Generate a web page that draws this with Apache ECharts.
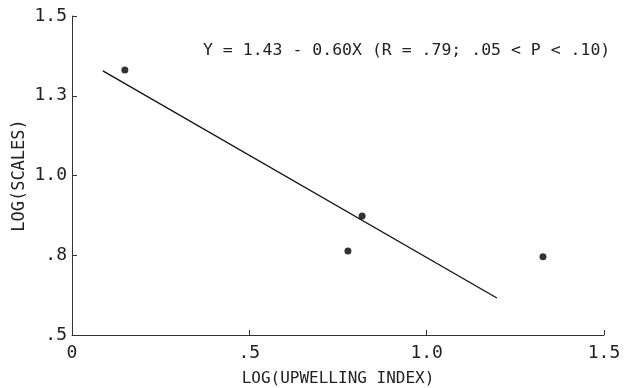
<!DOCTYPE html>
<html>
<head>
<meta charset="utf-8">
<script src="https://cdn.jsdelivr.net/npm/echarts@6/dist/echarts.min.js"></script>
<style>
  html, body { margin: 0; padding: 0; background: #fff; }
  #chart { width: 624px; height: 388px; }
</style>
</head>
<body>
<div id="chart"></div>
<script>
// Observed stations: log upwelling index vs log scale counts
const logUpwelling = [0.149, 0.818, 0.778, 1.328];
const logScales    = [1.331, 0.873, 0.763, 0.745];

// Fitted regression line, drawn between its two end points
const fitX = [0.087, 1.198];
const fitY = [1.328, 0.616];

// Axis tick values and their printed labels
const xTicks = [0, 0.5, 1.0, 1.5];
const xTickLabels = ['0', '.5', '1.0', '1.5'];
const yTicks = [0.5, 0.75, 1.0, 1.25, 1.5];
const yTickLabels = ['.5', '.8', '1.0', '1.3', '1.5'];

const equationText = 'Y = 1.43 - 0.60X (R = .79; .05 < P < .10)';

const FONT = '"DejaVu Sans Mono", "Liberation Mono", monospace';
const INK = '#222';

function labelFor(ticks, labels) {
  return function (v) {
    for (let i = 0; i < ticks.length; i++) {
      if (Math.abs(ticks[i] - v) < 1e-6) return labels[i];
    }
    return '';
  };
}

const chart = echarts.init(document.getElementById('chart'), null, { renderer: 'canvas' });

chart.setOption({
  animation: false,
  backgroundColor: '#fff',
  grid: {
    left: 72, right: 20, top: 16, bottom: 53,
    containLabel: false,
    outerBoundsMode: 'none'
  },
  xAxis: {
    type: 'value',
    min: 0, max: 1.5, interval: 0.5,
    name: 'LOG(UPWELLING INDEX)',
    nameLocation: 'middle',
    nameGap: 36,
    nameMoveOverlap: false,
    nameTextStyle: { fontFamily: FONT, fontSize: 16, color: INK },
    axisLine: { show: true, lineStyle: { color: '#333', width: 1 } },
    axisTick: { show: true, inside: true, length: 5, lineStyle: { color: '#333' } },
    axisLabel: {
      fontFamily: FONT, fontSize: 18, color: INK, margin: 9,
      formatter: labelFor(xTicks, xTickLabels)
    },
    splitLine: { show: false }
  },
  yAxis: {
    type: 'value',
    min: 0.5, max: 1.5, interval: 0.25,
    name: 'LOG(SCALES)',
    nameLocation: 'middle',
    nameGap: 44,
    nameRotate: 90,
    nameMoveOverlap: false,
    nameTextStyle: { fontFamily: FONT, fontSize: 17, color: INK },
    axisLine: { show: true, lineStyle: { color: '#333', width: 1 } },
    axisTick: { show: true, inside: true, length: 5, lineStyle: { color: '#333' } },
    axisLabel: {
      fontFamily: FONT, fontSize: 18, color: INK, margin: 5,
      formatter: labelFor(yTicks, yTickLabels)
    },
    splitLine: { show: false }
  },
  series: [
    {
      type: 'line',
      data: fitX.map((x, i) => [x, fitY[i]]),
      showSymbol: false,
      symbol: 'none',
      lineStyle: { color: '#111', width: 1.3 },
      z: 2
    },
    {
      type: 'scatter',
      data: logUpwelling.map((x, i) => [x, logScales[i]]),
      symbol: 'circle',
      symbolSize: 7,
      itemStyle: { color: '#000' },
      z: 3
    }
  ],
  graphic: [
    {
      type: 'text',
      left: 203,
      top: 42,
      style: {
        text: equationText,
        fontFamily: FONT,
        fontSize: 16.5,
        fill: INK
      }
    }
  ]
});
</script>
</body>
</html>
